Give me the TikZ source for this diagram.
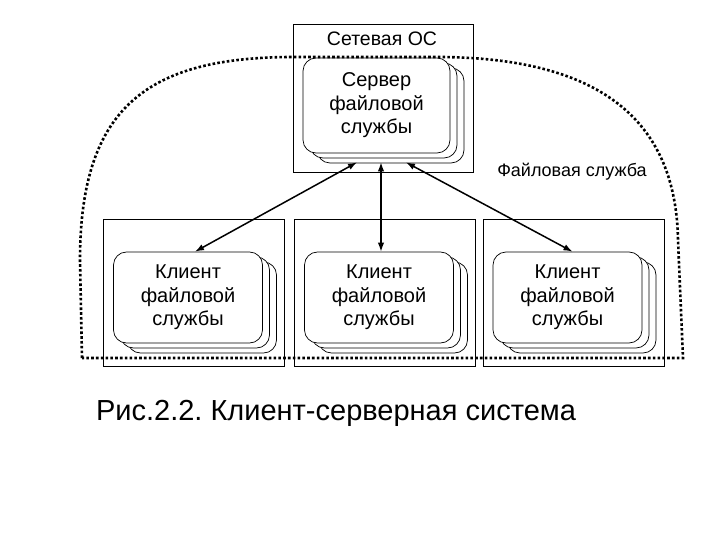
\documentclass[tikz,border=0pt]{standalone}
\usepackage{fontspec}
\setmainfont{Liberation Sans}
\usetikzlibrary{shadows,arrows.meta,calc}
\frenchspacing
\begin{document}
\begin{tikzpicture}[x=1pt,y=-1pt,
  frame/.style={draw, line width=0.8pt, minimum width=181pt, minimum height=147pt, inner sep=0pt},
  layer/.style={draw, line width=0.7pt, fill=white},
  proc/.style={draw, line width=0.7pt, fill=white, rounded corners=13pt,
     minimum width=149pt, minimum height=91pt, align=center, inner sep=0pt,
     font=\fontsize{20}{23.5}\selectfont,
     copy shadow={shadow xshift=14pt, shadow yshift=-10pt, layer},
     copy shadow={shadow xshift=7pt, shadow yshift=-5pt, layer}},
  link/.style={line width=1.5pt, {Latex[length=9pt,width=6.5pt]}-{Latex[length=9pt,width=6.5pt]}},
  border/.style={line width=2.6pt, dash pattern=on 2.6pt off 2.2pt},
  lbl/.style={inner sep=0pt, anchor=base}]
\useasboundingbox[fill=white] (0,0) rectangle (720,540);

% network OS box with server
\node[frame, minimum width=180pt, minimum height=148pt] (os) at (383,98) {};
\node[lbl, font=\fontsize{19.5}{23}\selectfont] (osl) at (382,46) {Сетевая ОС};
\node[proc, minimum width=147pt, minimum height=95pt] (srv) at (376.5,105.5) {Сервер\\файловой\\службы};

% client frames
\node[frame] (f1) at (193.5,292.5) {};
\node[frame] (f2) at (385,292.5) {};
\node[frame] (f3) at (574,292.5) {};
\node[proc] (c1) at (188,297.5) {Клиент\\файловой\\службы};
\node[proc] (c2) at (379,297.5) {Клиент\\файловой\\службы};
\node[proc] (c3) at (567.5,297.5) {Клиент\\файловой\\службы};

% service boundary
\coordinate (b1) at (82,358);
\coordinate (b2) at (80,260);
\coordinate (b3) at (290,57);
\coordinate (b4) at (440,57);
\coordinate (b5) at (678,240);
\coordinate (b6) at (683,358);
\draw[border] (b1) -- (b2) .. controls (80,105) and (150,58) .. (b3) -- (b4)
   .. controls (600,58) and (676,120) .. (b5) -- (b6) -- cycle;
\node[lbl, font=\fontsize{18}{21}\selectfont] (fs) at (572,177) {Файловая служба};

% arrows
\coordinate (sL) at ($(srv.south)+(-19.5,9)$);
\coordinate (sM) at ($(srv.south)+(4.5,9)$);
\coordinate (sR) at ($(srv.south)+(29.5,9)$);
\draw[link] (sL) -- ($(c1.north)+(7,0)$);
\draw[link] (sM) -- ($(c2.north)+(2,0)$);
\draw[link] (sR) -- ($(c3.north)+(5,0)$);

% caption
\node[lbl, font=\fontsize{29}{34}\selectfont] (cap) at (336,420) {Рис.2.2. Клиент-серверная система};
\end{tikzpicture}
\end{document}
